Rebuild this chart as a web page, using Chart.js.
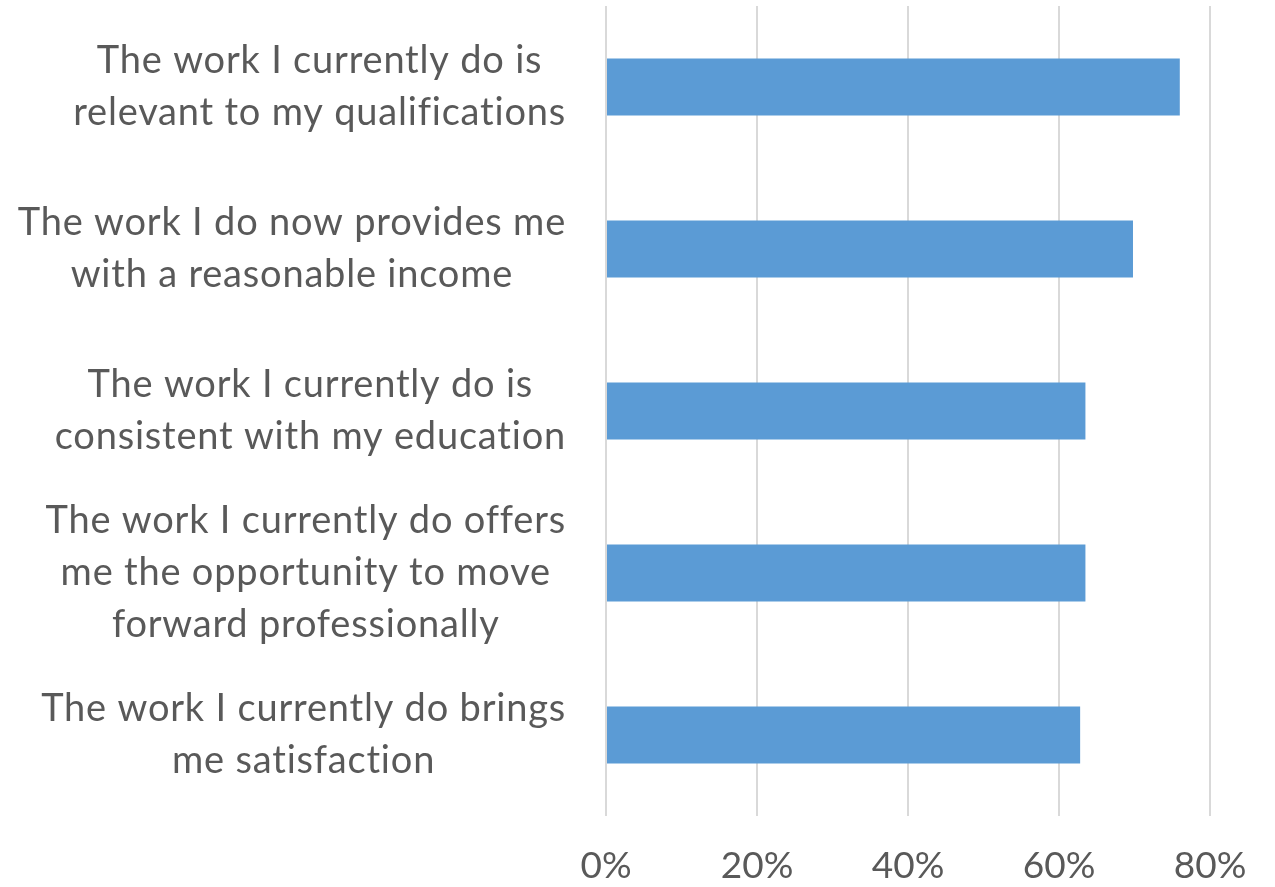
<!DOCTYPE html>
<html>
<head>
<meta charset="utf-8">
<script src="https://cdn.jsdelivr.net/npm/chart.js@4.4.1/dist/chart.umd.min.js"></script>
<style>
  html, body { margin: 0; padding: 0; background: #ffffff; }
  #wrap { width: 1275px; height: 887px; position: relative; }
</style>
</head>
<body>
<div id="wrap"><canvas id="chart"></canvas></div>
<script>
// Categories (each one split into the lines shown on the chart)
const categories = [
    ['The work I currently do is', 'relevant to my qualifications'],
    ['The work I do now provides me', 'with a reasonable income'],
    ['The work I currently do is', 'consistent with my education'],
    ['The work I currently do offers', 'me the opportunity to move', 'forward professionally'],
    ['The work I currently do brings', 'me satisfaction']
];

// Share of respondents (%)
const values = [76.0, 69.8, 63.5, 63.5, 62.8];

// Tick values of the percentage axis
const tickValues = [0, 20, 40, 60, 80];

const TEXT_COLOR = '#595959';
const FONT_FAMILY = 'Lato, "Open Sans", sans-serif';

// Category labels: each block centred on itself and pushed against the axis
const categoryLabelPlugin = {
    id: 'categoryLabels',
    afterDraw: (chart) => {
        const ctx = chart.ctx;
        const yScale = chart.scales.y;
        const rightEdge = chart.chartArea.left - 40;
        const lineHeight = 52;

        ctx.save();
        ctx.font = '38px ' + FONT_FAMILY;
        ctx.letterSpacing = '0.8px';
        ctx.fillStyle = TEXT_COLOR;
        ctx.textAlign = 'center';
        ctx.textBaseline = 'middle';

        categories.forEach((lines, i) => {
            const centerY = yScale.getPixelForValue(i);
            const widest = Math.max(...lines.map(l => ctx.measureText(l).width));
            const centerX = rightEdge - widest / 2;
            lines.forEach((line, j) => {
                const y = centerY + (j - (lines.length - 1) / 2) * lineHeight;
                ctx.fillText(line, centerX, y);
            });
        });

        ctx.restore();
    }
};

const ctx = document.getElementById('chart').getContext('2d');

new Chart(ctx, {
    type: 'bar',
    data: {
        labels: categories,
        datasets: [{
            data: values,
            backgroundColor: '#5B9BD5',
            borderWidth: 0,
            categoryPercentage: 1,
            barPercentage: 0.352
        }]
    },
    options: {
        indexAxis: 'y',
        responsive: true,
        maintainAspectRatio: false,
        animation: false,
        layout: {
            padding: { top: 6, right: 65, bottom: 0, left: 0 }
        },
        plugins: {
            legend: { display: false },
            tooltip: { enabled: false }
        },
        scales: {
            x: {
                min: 0,
                max: 80,
                afterBuildTicks: (scale) => {
                    scale.ticks = tickValues.map(v => ({ value: v }));
                },
                afterFit: (scale) => {
                    scale.height = 71;
                },
                grid: {
                    color: '#D9D9D9',
                    lineWidth: 2,
                    drawTicks: false
                },
                border: { display: false },
                ticks: {
                    padding: 28,
                    color: TEXT_COLOR,
                    font: { family: FONT_FAMILY, size: 37 },
                    callback: (value) => value + '%'
                }
            },
            y: {
                grid: { display: false },
                border: { display: false },
                ticks: { display: false },
                afterFit: (scale) => {
                    scale.width = 606;
                }
            }
        }
    },
    plugins: [categoryLabelPlugin]
});
</script>
</body>
</html>
